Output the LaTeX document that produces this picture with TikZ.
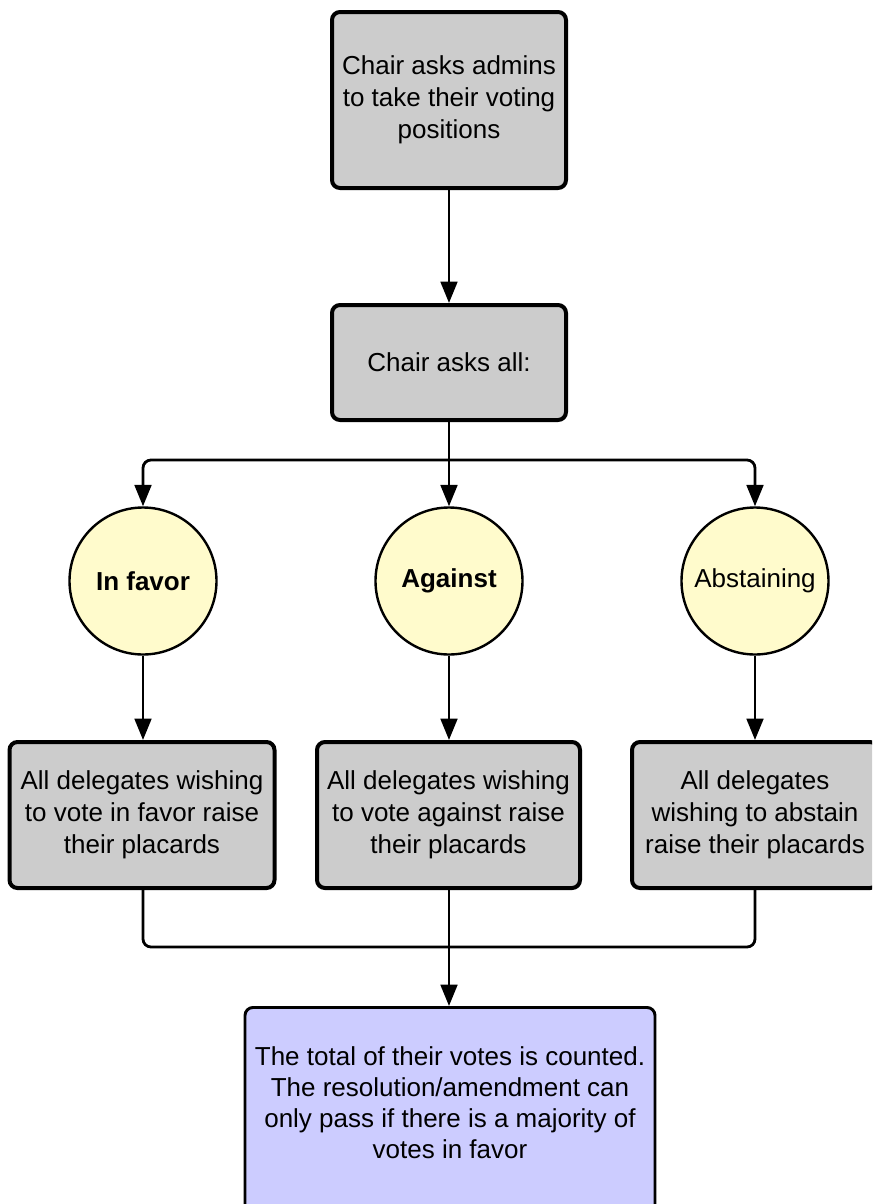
\documentclass[tikz,border=0pt]{standalone}
\usepackage{fontspec}
\setmainfont{Liberation Sans}
\usetikzlibrary{arrows.meta}
\definecolor{boxgray}{HTML}{CCCCCC}
\definecolor{circyellow}{HTML}{FFFBCC}
\definecolor{reslav}{HTML}{CCCCFF}
\begin{document}
\begin{tikzpicture}[x=0.75pt,y=-0.75pt,
  font=\fontsize{19.5pt}{24pt}\selectfont,
  graybox/.style={draw=black,line width=3pt,fill=boxgray,rounded corners=6pt,align=center,inner sep=0pt},
  choice/.style={circle,draw=black,line width=1.8pt,fill=circyellow,minimum size=110.25pt,inner sep=0pt},
  conn/.style={line width=2.1pt,rounded corners=6pt},
  arr/.style={conn,-{Triangle[length=16pt,width=12.5pt]}}]
\useasboundingbox (0,0) rectangle (872,1204);
\clip (0,0) rectangle (872,1204);
\fill[white] (0,0) rectangle (872,1204);

\node[graybox,minimum width=175.5pt,minimum height=132pt] (top) at (449,100)
  {Chair asks admins\\to take their voting\\positions};
\node[graybox,minimum width=175.5pt,minimum height=86.25pt] (ask) at (449,362.5)
  {Chair asks all:};

\node[choice] (c1) at (143,581) {\bfseries In favor};
\node[choice] (c2) at (449,581) {\bfseries Against};
\node[choice] (c3) at (755,581) {Abstaining};

\node[graybox,minimum width=198.75pt,minimum height=109.5pt] (b1) at (142,815)
  {All delegates wishing\\to vote in favor raise\\their placards};
\node[graybox,minimum width=197.25pt,minimum height=109.5pt] (b2) at (448.5,815)
  {All delegates wishing\\to vote against raise\\their placards};
\node[graybox,minimum width=184.5pt,minimum height=109.5pt] (b3) at (755,815)
  {All delegates\\wishing to abstain\\raise their placards};

\node[draw=black,line width=2.2pt,fill=reslav,rounded corners=6pt,minimum width=307.5pt,minimum height=195pt,anchor=north] (res) at (450,1006) {};
\node[align=center,inner sep=0pt,font=\fontsize{19.5pt}{23.25pt}\selectfont] (restext) at (450,1103)
  {The total of their votes is counted.\\The resolution/amendment can\\only pass if there is a majority of\\votes in favor};

\draw[arr] (top) -- (ask);
\coordinate (split) at (449,460);
\draw[conn] (ask) -- (split);
\draw[arr] (split) -| (c1);
\draw[arr] (split) -- (c2);
\draw[arr] (split) -| (c3);

\draw[arr] (c1) -- (c1 |- b1.north);
\draw[arr] (c2) -- (c2 |- b2.north);
\draw[arr] (c3) -- (c3 |- b3.north);

\coordinate (merge) at (449,947);
\draw[conn] (b1.south -| c1) |- (merge) -| (b3.south -| c3);
\draw[arr] (b2.south -| c2) -- (res.north -| c2);
\end{tikzpicture}
\end{document}
